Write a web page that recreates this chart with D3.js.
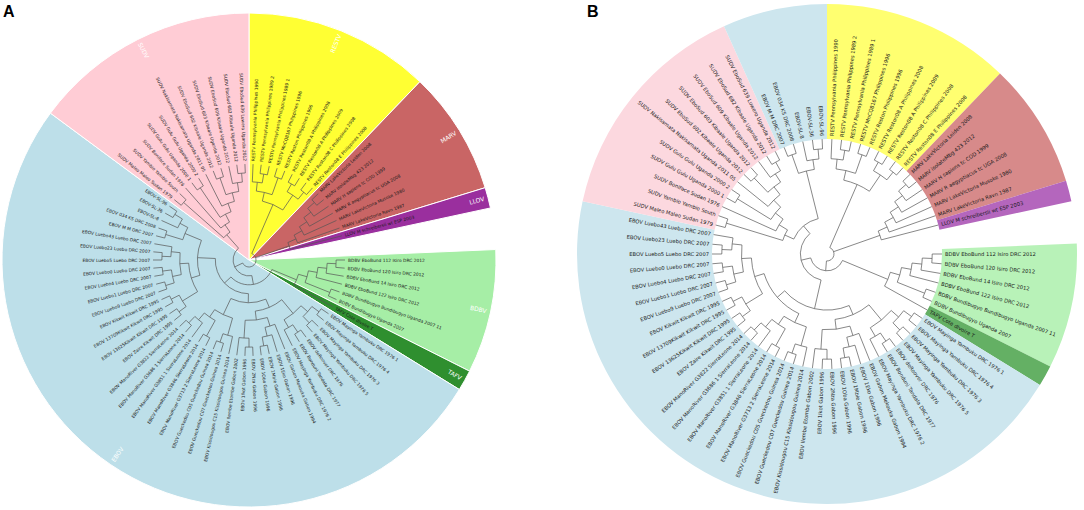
<!DOCTYPE html>
<html>
<head>
<meta charset="utf-8">
<script src="https://cdn.jsdelivr.net/npm/d3@7"></script>
<style>
body { margin:0; background:#fff; }
svg { display:block; }
.leaf { font-family:"DejaVu Sans", sans-serif; fill:#1a1a1a; }
.branch { fill:none; stroke:#555; stroke-width:0.7; }
.panel { font-family:"Liberation Sans", Arial, sans-serif; font-weight:bold; font-size:16px; }
.grp { font-family:"DejaVu Sans", sans-serif; fill:#fff; font-size:6px; }
</style>
</head>
<body>
<svg id="chart" width="1084" height="510"></svg>
<script>
// leaf names, grouped by species
const restv = ["RESTV Pennsylvania Philippines 1990", "RESTV Pennsylvania Philippines 1989 2",
  "RESTV Pennsylvania Philippines 1989 1", "RESTV MnCQ8167 Philippines 1996", "RESTV Reston Philippines 1996",
  "RESTV Reston08 A Philippines 2008", "RESTV Reston08 A Philippines 2009", "RESTV Reston08 C Philippines 2008",
  "RESTV Reston08 E Philippines 2008"];
const marv = ["MARV LakeVictoria Leiden 2008", "MARV isolateMbg 423 2012", "MARV H sapiens tc COD 1999",
  "MARV R aegyptiacus tc UGA 2008", "MARV LakeVictoria Musoke 1980", "MARV LakeVictoria Ravn 1987"];
const llov = ["LLOV M schreibersii wt ESP 2003"];
const bdbv = ["BDBV EboBund 112 Isiro DRC 2012", "BDBV EboBund 120 Isiro DRC 2012", "BDBV EboBund 14 Isiro DRC 2012",
  "BDBV EboBund 122 Isiro DRC 2012", "BDBV Bundibugyo Bundibugyo Uganda 2007 11", "BDBV Bundibugyo Uganda 2007"];
const tafv = ["TAFV Cote dIvoire T"];
const ebov = ["EBOV Mayinga Yambuku DRC 1976 1", "EBOV Mayinga Yambuku DRC 1976 4", "EBOV Mayinga Yambuku DRC 1976 3",
  "EBOV Mayinga Yambuku DRC 1976 5", "EBOV deRoover DRC 1976", "EBOV Bonduni Tandala DRC 1977",
  "EBOV Mayinga Yambuku DRC 1976 2", "EBOV Gabon Mekouka Gabon 1994", "EBOV 1Eko Gabon 1996", "EBOV 1Mbie Gabon 1996",
  "EBOV 1Oba Gabon 1996", "EBOV 2Nza Gabon 1996", "EBOV 1Ikot Gabon 1996", "EBOV Ilembe Etombe Gabon 2002",
  "EBOV Kissidougou C15 Kissidougou Guinea 2014", "EBOV Gueckedou C07 Gueckedou Guinea 2014",
  "EBOV Gueckedou C05 Gueckedou Guinea 2014", "EBOV ManoRiver G3713 2 SierraLeone 2014",
  "EBOV ManoRiver G3846 SierraLeone 2014", "EBOV ManoRiver G3851 1 SierraLeone 2014",
  "EBOV ManoRiver G3686 1 SierraLeone 2014", "EBOV ManoRiver G3822 SierraLeone 2014", "EBOV Zaire Kikwit DRC 1995",
  "EBOV 13625Kikwit Kikwit DRC 1995", "EBOV 13709Kikwit Kikwit DRC 1995", "EBOV Kikwit Kikwit DRC 1995",
  "EBOV Luebo9 Luebo DRC 2007", "EBOV Luebo1 Luebo DRC 2007", "EBOV Luebo4 Luebo DRC 2007", "EBOV Luebo0 Luebo DRC 2007",
  "EBOV Luebo5 Luebo DRC 2007", "EBOV Luebo23 Luebo DRC 2007", "EBOV Luebo43 Luebo DRC 2007", "EBOV M M DRC 2007",
  "EBOV 034 KS DRC 2008", "EBOV-SL-8", "EBOV-SL-36", "EBOV-SL-96"];
const sudv = ["SUDV Maleo Maleo Sudan 1979", "SUDV Yambio Yambio South", "SUDV Boniface Sudan 1976",
  "SUDV Gulu Gulu Uganda 2000 1", "SUDV Gulu Gulu Uganda 2000 2", "SUDV Nakisamata Nakisamata Uganda 2011 05",
  "SUDV EboSud 602 Kibaale Uganda 2012", "SUDV EboSud 603 Kibaale Uganda 2012", "SUDV EboSud 609 Kibaale Uganda 2012",
  "SUDV EboSud 682 Kibaale Uganda 2012", "SUDV EboSud 639 Luwero Uganda 2012"];

const species = {R: "RESTV", M: "MARV", L: "LLOV", B: "BDBV", T: "TAFV", E: "EBOV", S: "SUDV"};
const names = {RESTV: restv, MARV: marv, LLOV: llov, BDBV: bdbv, TAFV: tafv, EBOV: ebov, SUDV: sudv};

// clades (leaf codes = species letter + index)
const restvTree = [[["R1", ["R2", "R3"]], ["R4", "R5"]], [["R6", "R7"], ["R8", "R9"]]];
const marvTree = [[[[["M1", "M2"], "M3"], "M4"], "M5"], "M6"];
const bdbvTree = [[[["B1", "B2"], "B3"], "B4"], ["B5", "B6"]];
const mayinga = [[["E1", "E2"], ["E3", "E4"]], [["E5", "E6"], "E7"]];
const gabon = [["E8", ["E9", ["E10", "E11"]]], [["E12", "E13"], "E14"]];
const westAfrica = [["E15", ["E16", "E17"]], [["E18", "E19"], ["E20", ["E21", "E22"]]]];
const kikwit = [["E23", "E24"], ["E25", "E26"]];
const luebo = [[["E27", "E28"], ["E29", "E30"]], [["E31", "E32"], "E33"]];
const ebovOther = [["E34", "E35"], ["E36", ["E37", "E38"]]];
const sudvTree = [["S1", "S2"], ["S3", [["S4", "S5"], ["S6", [["S7", "S8"], ["S9", ["S10", "S11"]]]]]]];

const treeA = [restvTree, [marvTree, "L1"],
  [[[bdbvTree, "T1"], [[[mayinga, gabon], westAfrica], [[kikwit, luebo], ebovOther]]], sudvTree]];
const treeB = [restvTree, [marvTree, "L1"],
  [[bdbvTree, "T1"], [[[mayinga, gabon], [westAfrica, [kikwit, luebo]]], [sudvTree, ebovOther]]]];

const colorsA = {RESTV: "#ffff33", MARV: "#c96565", LLOV: "#9a2f9e", BDBV: "#a6eea6", TAFV: "#2f8f2f", EBOV: "#bddfe9", SUDV: "#ffccd5"};
const colorsB = {RESTV: "#ffff70", MARV: "#d78a8a", LLOV: "#b466bd", BDBV: "#b8f2b8", TAFV: "#64b064", EBOV: "#cde6ee", SUDV: "#fcd8df"};

const svg = d3.select("#chart");
const slots = 74;   // 72 leaves + a gap of 2 between LLOV and BDBV
const step = 360 / slots;
const rad = a => a * Math.PI / 180;
const pt = (a, r) => [r * Math.sin(rad(a)), -r * Math.cos(rad(a))];

function drawTree(tree, o) {
  const root = d3.hierarchy(tree, d => Array.isArray(d) ? d : null);
  // cluster pads half a slot on each end, so 360 closes the circle
  d3.cluster()
    .size([360, 1])
    .separation((a, b) => (a.data === "B1" && b.data === "L1") || (a.data === "L1" && b.data === "B1") ? 3 : 1)(root);
  const rs = d3.scaleLinear().domain([0, 1]).range([o.r0, o.rLeaf]);
  root.each(d => { d.a = d.x; d.r = rs(d.y); });

  const g = svg.append("g").attr("transform", `translate(${o.cx},${o.cy})`);
  const leaves = root.leaves();
  leaves.forEach(d => {
    d.sp = species[d.data[0]];
    d.name = names[d.sp][+d.data.slice(1) - 1];
  });

  // species wedges, one per contiguous run
  const runs = [];
  leaves.forEach(d => {
    const last = runs[runs.length - 1];
    if (last && last.sp === d.sp) last.end = d.a;
    else runs.push({sp: d.sp, start: d.a, end: d.a});
  });
  const arc = d3.arc().innerRadius(o.rIn).outerRadius(o.R)
    .startAngle(d => rad(d.start - step / 2)).endAngle(d => rad(d.end + step / 2));
  g.selectAll("path.wedge").data(runs).join("path")
    .attr("class", "wedge").attr("d", arc)
    .attr("fill", d => o.colors[d.sp])
    .attr("stroke", o.sep ? "#fff" : "none").attr("stroke-width", 1);

  if (o.groupLabels) {
    g.selectAll("text.grp").data(runs).join("text")
      .attr("class", "grp")
      .attr("transform", d => {
        const m = (d.start + d.end) / 2;
        return `rotate(${m - 90}) translate(${o.R - 4},0)` + (m > 180 ? " rotate(180)" : "");
      })
      .attr("text-anchor", d => (d.start + d.end) / 2 > 180 ? "start" : "end")
      .attr("dy", "0.35em")
      .text(d => d.sp);
  }

  // branches: radial segment per child, arc per internal node
  const paths = [];
  root.descendants().forEach(d => {
    if (d.parent) {
      const p0 = pt(d.a, d.parent.r), p1 = pt(d.a, d.r);
      paths.push(`M${p0[0]},${p0[1]}L${p1[0]},${p1[1]}`);
    }
    if (d.children) {
      const a0 = d.children[0].a, a1 = d.children[d.children.length - 1].a;
      const p0 = pt(a0, d.r), p1 = pt(a1, d.r);
      paths.push(`M${p0[0]},${p0[1]}A${d.r},${d.r} 0 ${a1 - a0 > 180 ? 1 : 0} 1 ${p1[0]},${p1[1]}`);
    }
  });
  g.selectAll("path.branch").data(paths).join("path").attr("class", "branch").attr("d", p => p);

  g.selectAll("text.leaf").data(leaves).join("text")
    .attr("class", "leaf")
    .attr("font-size", o.font)
    .attr("transform", d => `rotate(${d.a - 90}) translate(${d.r + o.off},0)` + (d.a > 180 ? " rotate(180)" : ""))
    .attr("text-anchor", d => d.a > 180 ? "end" : "start")
    .attr("dy", "0.35em")
    .text(d => d.name);
}

drawTree(treeA, {cx: 249, cy: 260, R: 247, rIn: 0, rLeaf: 96, r0: 7, off: 3, font: 4.4,
  colors: colorsA, sep: true, groupLabels: true});
drawTree(treeB, {cx: 827, cy: 254, R: 250, rIn: 115, rLeaf: 115, r0: 7, off: 3, font: 5.2,
  colors: colorsB, sep: false, groupLabels: false});

svg.append("text").attr("class", "panel").attr("x", 3).attr("y", 17).text("A");
svg.append("text").attr("class", "panel").attr("x", 587).attr("y", 17).text("B");
</script>
</body>
</html>
